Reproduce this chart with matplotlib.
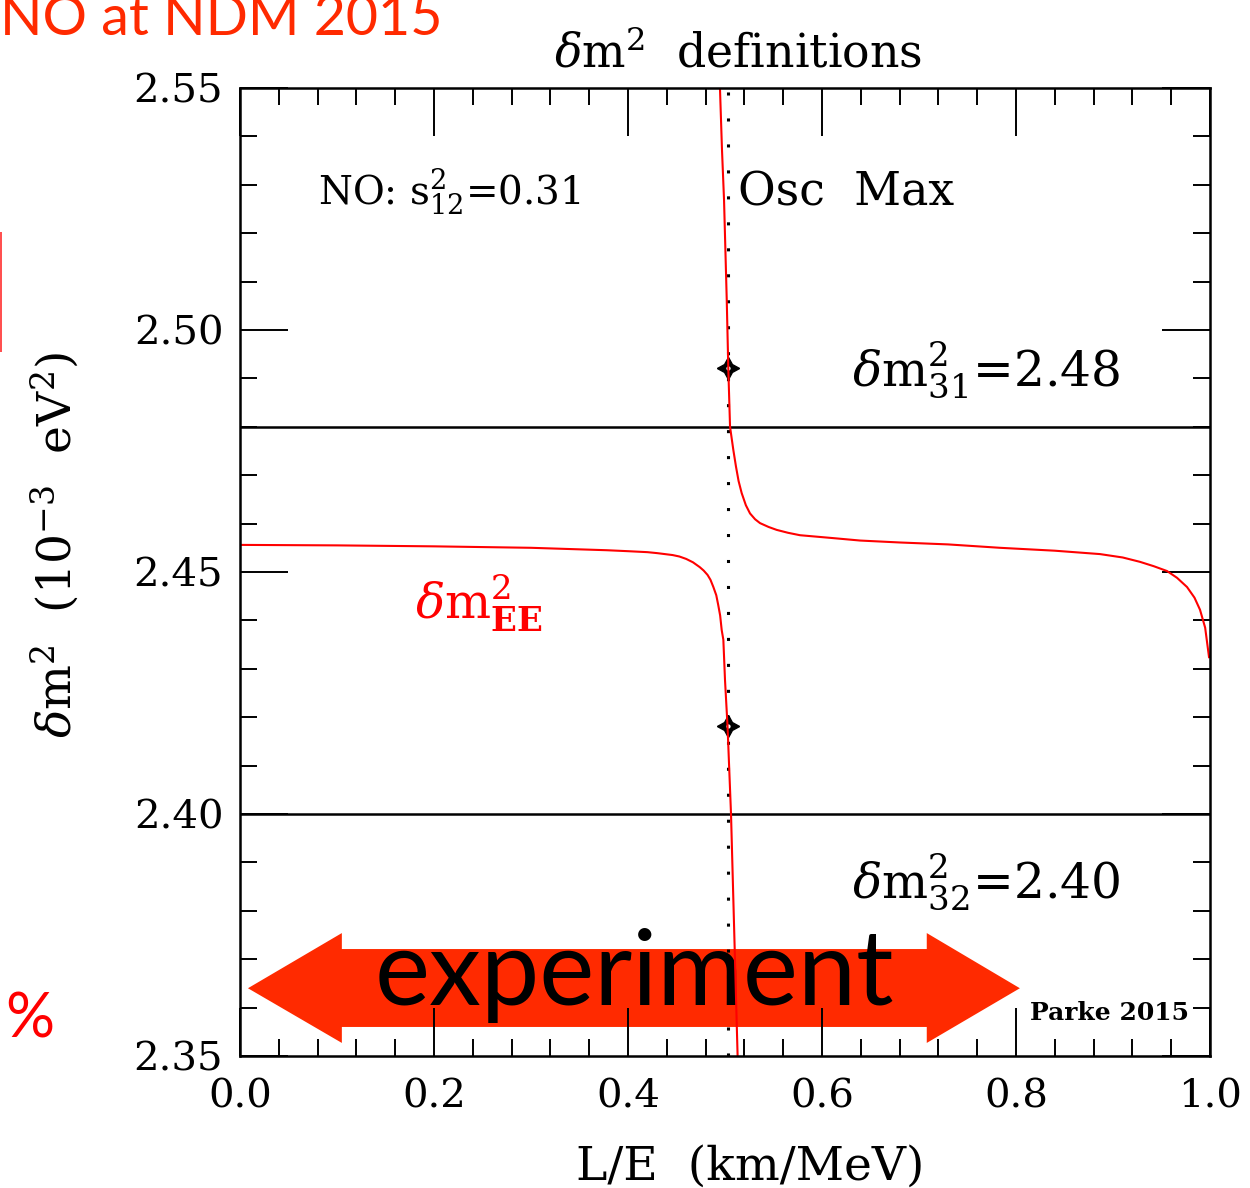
import matplotlib
matplotlib.use("Agg")
import matplotlib.pyplot as plt
from matplotlib.patches import Polygon, Rectangle
from matplotlib.ticker import MultipleLocator, FormatStrFormatter

# ---- data ----
left_x = [0.0, 0.1, 0.2, 0.3, 0.378, 0.40, 0.42, 0.43, 0.446, 0.453, 0.46, 0.467,
          0.474, 0.478, 0.482, 0.485, 0.488, 0.491, 0.493, 0.495, 0.4966, 0.4983,
          0.5000, 0.5026, 0.5062, 0.5130]
left_y = [2.4556, 2.4555, 2.4553, 2.4550, 2.4545, 2.4543, 2.4541, 2.4539, 2.4535,
          2.4532, 2.4527, 2.4520, 2.4510, 2.4503, 2.4494, 2.4484, 2.4469, 2.4452,
          2.4432, 2.4410, 2.4380, 2.4360, 2.4277, 2.4182, 2.4000, 2.3500]

right_x = [0.4948, 0.4969, 0.4990, 0.5018, 0.5034, 0.5052, 0.5086, 0.5113, 0.5140,
           0.5172, 0.5215, 0.5258, 0.5310, 0.5361, 0.5450, 0.5533, 0.5650, 0.5773,
           0.6116, 0.6392, 0.6800, 0.7300, 0.7835, 0.8400, 0.8866, 0.9100, 0.9278,
           0.9420, 0.9557, 0.9660, 0.9763, 0.9840, 0.9897, 0.9950, 0.9990]
right_y = [2.5500, 2.5372, 2.5269, 2.5062, 2.4921, 2.4800, 2.4752, 2.4718, 2.4688,
           2.4663, 2.4638, 2.4621, 2.4609, 2.4601, 2.4593, 2.4587, 2.4581, 2.4576,
           2.4570, 2.4565, 2.4561, 2.4557, 2.4550, 2.4544, 2.4537, 2.4530, 2.4521,
           2.4512, 2.4502, 2.4488, 2.4469, 2.4447, 2.4422, 2.4385, 2.4324]

dm31 = 2.48
dm32 = 2.40
osc_max = 0.503
marker_x = [0.5034, 0.5034]
marker_y = [2.4921, 2.4182]

xticks = [0.0, 0.2, 0.4, 0.6, 0.8, 1.0]
yticks = [2.35, 2.40, 2.45, 2.50, 2.55]

RED = "#ff0000"
ARROW = "#ff2a00"

plt.rcParams["mathtext.fontset"] = "dejavuserif"
plt.rcParams["font.family"] = ["DejaVu Serif"]

W, H = 1250, 1188
fig = plt.figure(figsize=(W / 100, H / 100), dpi=100)


def fx(p):
    return p / W


def fy(p):
    return 1 - p / H


ax = fig.add_axes([fx(240), fy(1056), fx(1210) - fx(240), fy(88) - fy(1056)])
ax.set_xlim(0.0, 1.0)
ax.set_ylim(2.35, 2.55)

for s in ax.spines.values():
    s.set_linewidth(1.8)
    s.set_zorder(6)

ax.xaxis.set_major_locator(MultipleLocator(0.2))
ax.xaxis.set_minor_locator(MultipleLocator(0.04))
ax.yaxis.set_major_locator(MultipleLocator(0.05))
ax.yaxis.set_minor_locator(MultipleLocator(0.01))
ax.set_xticks(xticks)
ax.set_yticks(yticks)
ax.xaxis.set_major_formatter(FormatStrFormatter("%.1f"))
ax.yaxis.set_major_formatter(FormatStrFormatter("%.2f"))
ax.tick_params(which="both", direction="in", top=True, right=True, width=1.4)
ax.tick_params(which="major", length=34.5)
ax.tick_params(which="minor", length=12)
ax.tick_params(axis="y", which="major", pad=12, labelsize=29)
ax.tick_params(axis="x", which="major", pad=16, labelsize=29)
for t in ax.get_xticklabels() + ax.get_yticklabels():
    t.set_zorder(7)

# experiment arrow (decoration) + text underneath the data
arrow_pts = [(0.0082, 2.3640), (0.105, 2.3754), (0.105, 2.3721), (0.708, 2.3721),
             (0.708, 2.3754), (0.804, 2.3640), (0.708, 2.3527), (0.708, 2.3560),
             (0.105, 2.3560), (0.105, 2.3527)]
ax.add_patch(Polygon(arrow_pts, closed=True, facecolor=ARROW, edgecolor="none", zorder=1))
ax.text(0.407, 2.3605, "experiment", family=["Lato", "DejaVu Sans"], fontsize=75,
        ha="center", va="baseline", color="black", zorder=2)

# reference lines
ax.axhline(dm31, color="black", lw=1.8, zorder=3)
ax.axhline(dm32, color="black", lw=1.8, zorder=3)
ax.axvline(osc_max, color="black", lw=2.2, linestyle=(0, (1.0, 7.5)), zorder=3)

# markers
ax.plot(marker_x, marker_y, linestyle="none", marker=(4, 1, 0), markersize=16,
        color="black", zorder=4)
ax.plot(marker_x, marker_y, linestyle="none", marker="o", markersize=4.5,
        markerfacecolor="white", markeredgecolor="black", markeredgewidth=1.4, zorder=4.5)

# dm^2_EE curve
ax.plot(left_x, left_y, color=RED, lw=1.5, zorder=5, clip_on=True)
ax.plot(right_x, right_y, color=RED, lw=1.5, zorder=5, clip_on=True)

# annotations
ax.text(0.0804, 2.5258, r"NO: s$^2_{12}$=0.31", fontsize=28, ha="left", va="baseline")
ax.text(0.513, 2.5258, "Osc  Max", fontsize=33, ha="left", va="baseline")
ax.text(0.631, 2.4884, r"$\delta$m$^2_{31}$=2.48", fontsize=35, ha="left", va="baseline")
ax.text(0.631, 2.3826, r"$\delta$m$^2_{32}$=2.40", fontsize=35, ha="left", va="baseline")
ax.text(0.180, 2.4401, r"$\delta$m$^2_{\mathbf{EE}}$", fontsize=35, ha="left",
        va="baseline", color=RED)
ax.text(0.814, 2.3574, "Parke 2015", fontsize=18, fontweight="bold", ha="left",
        va="baseline", zorder=7)

# titles and axis labels
fig.text(fx(738), fy(67), r"$\delta$m$^2$  definitions", fontsize=33, ha="center",
         va="baseline")
fig.text(fx(750), fy(1180), "L/E  (km/MeV)", fontsize=34, ha="center", va="baseline")
fig.text(fx(55), fy(545), r"$\delta$m$^2$  (10$^{-3}$  eV$^2$)", fontsize=34,
         rotation=90, ha="center", va="center")

# slide fragments around the plot
fig.text(fx(443), fy(35), "NO at NDM 2015", family=["Lato", "DejaVu Sans"], fontsize=40,
         color=ARROW, ha="right", va="baseline")
fig.text(fx(5), fy(1037), "%", family=["Lato", "DejaVu Sans"], fontsize=44,
         color=RED, ha="left", va="baseline")
fig.patches.append(Rectangle((0, fy(352)), fx(2), fy(232) - fy(352),
                             transform=fig.transFigure, facecolor="#ff5050",
                             edgecolor="none"))

fig.savefig("out.png", dpi=100)
